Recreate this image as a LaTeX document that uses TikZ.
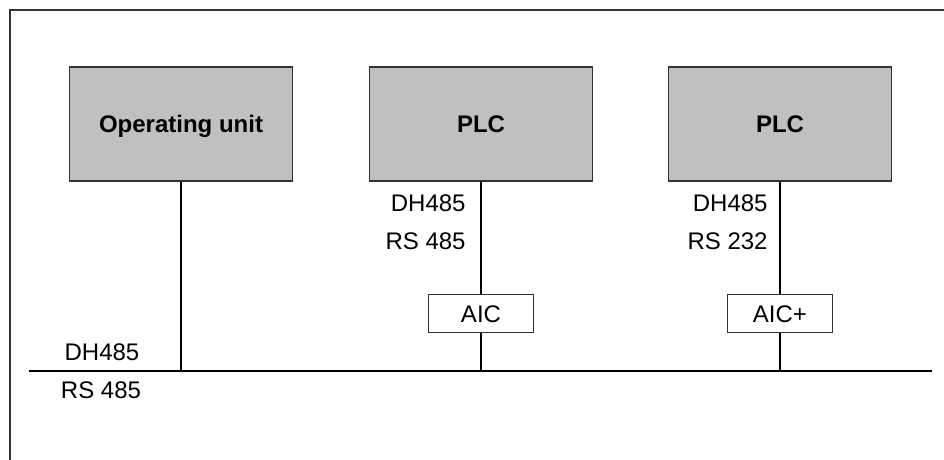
\documentclass[tikz,border=0pt]{standalone}
\usepackage{fontspec}
\setmainfont{Liberation Sans}
\usetikzlibrary{positioning}
\definecolor{unitgray}{HTML}{C0C0C0}
\definecolor{dark}{HTML}{333333}
\tikzset{
  unitbox/.style={draw=dark, line width=0.6pt, fill=unitgray, font=\fontsize{12}{14}\selectfont\bfseries, minimum width=111.5pt, minimum height=57pt, inner sep=0pt, text depth=0pt},
  aicbox/.style={draw=dark, line width=0.5pt, fill=white, font=\fontsize{12}{14}\selectfont, minimum width=52.5pt, minimum height=19pt, inner sep=0pt},
  lbl/.style={font=\fontsize{12}{14}\selectfont, inner sep=0pt},
  wire/.style={draw=black, line width=0.9pt}
}
\begin{document}
\begin{tikzpicture}[x=0.5pt, y=-0.5pt]
  \useasboundingbox (0,0) rectangle (944,460);
  % frame, only top and left sides in view
  \draw[dark, line width=0.7pt] (10,460) -- (10,10) -- (944,10);
  \node[unitbox] (ou) at (181,124) {Operating unit};
  \node[unitbox] (plca) at (481,124) {PLC};
  \node[unitbox] (plcb) at (780,124) {PLC};
  \node[aicbox] (aic) at (481,314) {AIC};
  \node[aicbox] (aicp) at (780,314) {AIC+};
  \coordinate (busL) at (29,371);
  \coordinate (busR) at (932,371);
  % bus and drops
  \draw[wire] (busL) -- (busR);
  \draw[wire] (ou.south) -- (ou.south |- busL);
  \draw[wire] (plca.south) -- (aic.north);
  \draw[wire] (aic.south) -- (aic.south |- busL);
  \draw[wire] (plcb.south) -- (aicp.north);
  \draw[wire] (aicp.south) -- (aicp.south |- busL);
  % protocol labels
  \node[lbl] (busdh) at (102,352) {DH485};
  \node[lbl] (busrs) at (101,390) {RS 485};
  \node[lbl, anchor=east] (adh) at (466,203) {DH485};
  \node[lbl, anchor=east] (ars) at (466,241) {RS 485};
  \node[lbl, anchor=east] (bdh) at (768,203) {DH485};
  \node[lbl, anchor=east] (brs) at (768,241) {RS 232};
\end{tikzpicture}
\end{document}
